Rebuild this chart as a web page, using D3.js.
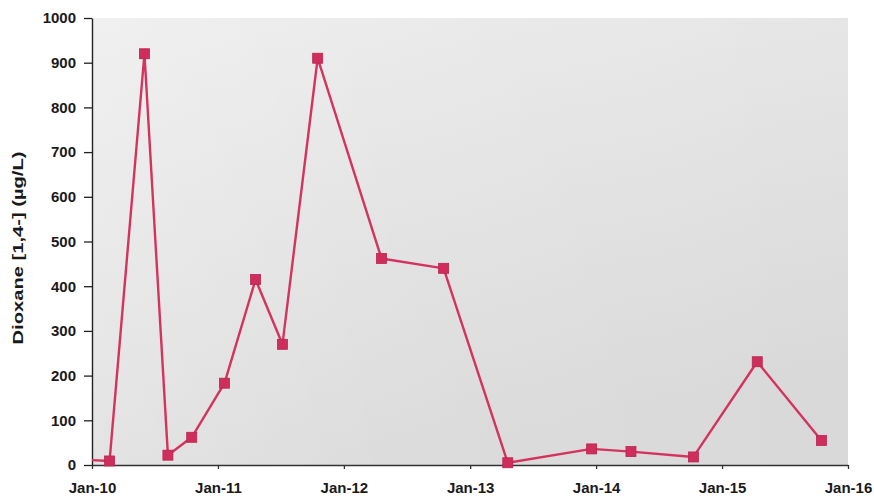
<!DOCTYPE html>
<html>
<head>
<meta charset="utf-8">
<script src="https://cdn.jsdelivr.net/npm/d3@7"></script>
<style>
  html, body { margin: 0; padding: 0; background: #ffffff; }
  svg { display: block; }
  text { font-family: "Liberation Sans", Arial, sans-serif; font-weight: bold; fill: #1a1a1a; }
</style>
</head>
<body>
<svg id="chart" width="874" height="499"></svg>
<script>
// ---- data ----
const sampleDates = [
  "2009-12-01", "2010-02-21", "2010-06-02", "2010-08-09", "2010-10-17",
  "2011-01-20", "2011-04-20", "2011-07-07", "2011-10-17", "2012-04-19",
  "2012-10-16", "2013-04-20", "2013-12-19", "2014-04-12", "2014-10-10",
  "2015-04-13", "2015-10-16"
];
const dioxaneValues = [
  12, 9, 920, 22, 62,
  183, 415, 270, 910, 462,
  440, 5, 36, 30, 18,
  231, 55
];
const markerVisible = [false, true, true, true, true, true, true, true, true, true, true, true, true, true, true, true, true];
const yTickValues = [0, 100, 200, 300, 400, 500, 600, 700, 800, 900, 1000];
const xTickDates = ["2010-01-01", "2011-01-01", "2012-01-01", "2013-01-01", "2014-01-01", "2015-01-01", "2016-01-01"];
const xTickLabels = ["Jan-10", "Jan-11", "Jan-12", "Jan-13", "Jan-14", "Jan-15", "Jan-16"];
const yAxisTitle = "Dioxane [1,4-] (µg/L)";

// ---- layout ----
const margin = { left: 92, right: 26, top: 18, bottom: 34 };
const W = 874, H = 499;
const svg = d3.select("#chart");
const parse = d3.timeParse("%Y-%m-%d");
const points = sampleDates.map((d, i) => ({ date: parse(d), value: dioxaneValues[i], marker: markerVisible[i] }));

const x = d3.scaleTime()
  .domain([parse(xTickDates[0]), parse(xTickDates[xTickDates.length - 1])])
  .range([margin.left, W - margin.right]);
const y = d3.scaleLinear()
  .domain([0, 1000])
  .range([H - margin.bottom, margin.top]);

// background gradient
const defs = svg.append("defs");
const grad = defs.append("linearGradient").attr("id", "bg")
  .attr("x1", "0").attr("y1", "0").attr("x2", "0.3").attr("y2", "1");
grad.append("stop").attr("offset", "0%").attr("stop-color", "#ebebeb");
grad.append("stop").attr("offset", "100%").attr("stop-color", "#d9d9d9");
const grad2 = defs.append("linearGradient").attr("id", "bgl")
  .attr("x1", "0").attr("y1", "0").attr("x2", "1").attr("y2", "0");
grad2.append("stop").attr("offset", "0%").attr("stop-color", "#ffffff").attr("stop-opacity", 0.25);
grad2.append("stop").attr("offset", "40%").attr("stop-color", "#ffffff").attr("stop-opacity", 0.08);
grad2.append("stop").attr("offset", "100%").attr("stop-color", "#ffffff").attr("stop-opacity", 0);
defs.append("clipPath").attr("id", "clip").append("rect")
  .attr("x", margin.left).attr("y", margin.top - 10)
  .attr("width", W - margin.left - margin.right + 10)
  .attr("height", H - margin.top - margin.bottom + 20);

svg.append("rect")
  .attr("x", x.range()[0]).attr("y", y(1000))
  .attr("width", x.range()[1] - x.range()[0]).attr("height", y(0) - y(1000))
  .attr("fill", "url(#bg)");
svg.append("rect")
  .attr("x", x.range()[0]).attr("y", y(1000))
  .attr("width", x.range()[1] - x.range()[0]).attr("height", y(0) - y(1000))
  .attr("fill", "url(#bgl)");

// y axis
const yAxis = d3.axisLeft(y).tickValues(yTickValues).tickFormat(d3.format("d"))
  .tickSize(8).tickSizeOuter(0).tickPadding(8);
const gy = svg.append("g").attr("transform", `translate(${margin.left},0)`).call(yAxis);
gy.select(".domain").attr("stroke", "#222").attr("stroke-width", 1.4);
gy.selectAll(".tick line").attr("stroke", "#222").attr("stroke-width", 1.3);
gy.selectAll(".tick text").style("font-size", "15px").attr("fill", "#1a1a1a");

// x axis
const xAxis = d3.axisBottom(x)
  .tickValues(xTickDates.map(parse))
  .tickFormat((d, i) => xTickLabels[i])
  .tickSize(4).tickSizeOuter(0).tickPadding(13);
const gx = svg.append("g").attr("transform", `translate(0,${y(0)})`).call(xAxis);
gx.select(".domain").attr("stroke", "#333").attr("stroke-width", 1.4);
gx.selectAll(".tick line").attr("stroke", "#333").attr("stroke-width", 1.3);
gx.selectAll(".tick text").style("font-size", "15px").attr("fill", "#1a1a1a");

// y title
svg.append("text")
  .attr("transform", `translate(23,${248}) rotate(-90)`)
  .attr("text-anchor", "middle")
  .attr("textLength", 193)
  .attr("lengthAdjust", "spacingAndGlyphs")
  .style("font-size", "15px")
  .text(yAxisTitle);

// series
const g = svg.append("g").attr("clip-path", "url(#clip)");
const line = d3.line().x(d => x(d.date)).y(d => y(d.value));
g.append("path").datum(points)
  .attr("fill", "none")
  .attr("stroke", "#d4335f")
  .attr("stroke-width", 2.4)
  .attr("stroke-linejoin", "round")
  .attr("d", line);
g.selectAll("rect.m").data(points.filter(d => d.marker)).join("rect")
  .attr("class", "m")
  .attr("x", d => x(d.date) - 5)
  .attr("y", d => y(d.value) - 5)
  .attr("width", 10).attr("height", 10)
  .attr("fill", "#cf2d5c")
  .attr("stroke", "#b8254f")
  .attr("stroke-width", 0.8);
</script>
</body>
</html>
